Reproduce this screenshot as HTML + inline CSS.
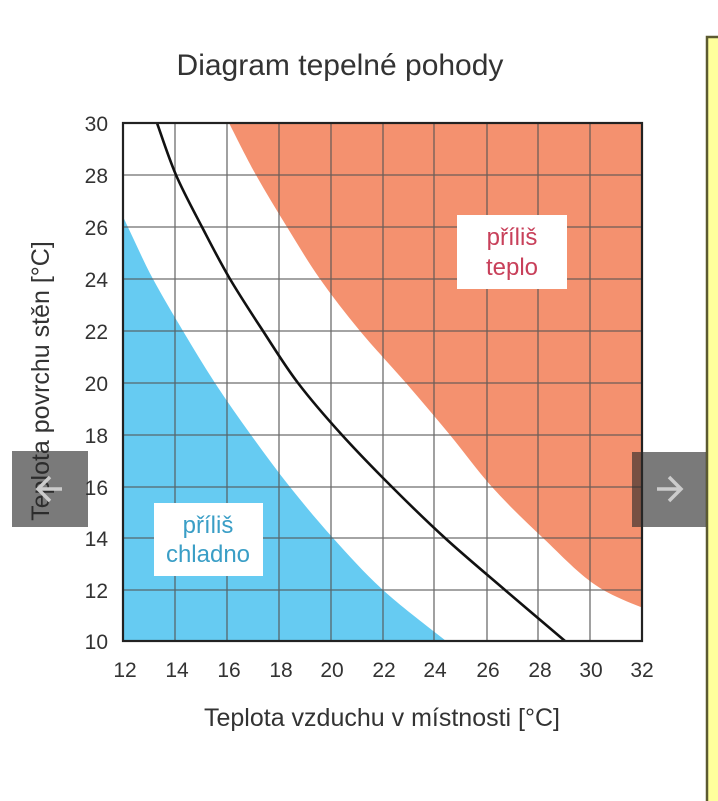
<!DOCTYPE html>
<html><head><meta charset="utf-8"><style>
html,body{margin:0;padding:0;background:#fff;}
body{width:718px;height:801px;overflow:hidden;position:relative;font-family:"Liberation Sans",Arial,sans-serif;}
</style></head><body>
<svg width="718" height="801" viewBox="0 0 718 801" xmlns="http://www.w3.org/2000/svg" style="position:absolute;left:0;top:0">
<defs><clipPath id="pc"><rect x="123" y="123" width="519" height="518"/></clipPath></defs>
<rect x="0" y="0" width="718" height="801" fill="#fff"/>
<rect x="707" y="37" width="20" height="780" fill="#ffff9c" stroke="#5c5a30" stroke-width="2.5"/>
<text x="340" y="75" font-size="30" fill="#333" text-anchor="middle">Diagram tepelné pohody</text>
<g clip-path="url(#pc)">
<path id="orange" fill="#f4916f"/>
<path id="blue" fill="#66cbf2"/>
</g>
<g stroke="#555" stroke-width="1.3" opacity="0.85">
<line x1="175" y1="123" x2="175" y2="641"/><line x1="227" y1="123" x2="227" y2="641"/>
<line x1="279" y1="123" x2="279" y2="641"/><line x1="331" y1="123" x2="331" y2="641"/>
<line x1="383" y1="123" x2="383" y2="641"/><line x1="434" y1="123" x2="434" y2="641"/>
<line x1="487" y1="123" x2="487" y2="641"/><line x1="538" y1="123" x2="538" y2="641"/>
<line x1="590" y1="123" x2="590" y2="641"/>
<line x1="123" y1="175" x2="642" y2="175"/><line x1="123" y1="227" x2="642" y2="227"/>
<line x1="123" y1="279" x2="642" y2="279"/><line x1="123" y1="331" x2="642" y2="331"/>
<line x1="123" y1="383" x2="642" y2="383"/><line x1="123" y1="435" x2="642" y2="435"/>
<line x1="123" y1="487" x2="642" y2="487"/><line x1="123" y1="538" x2="642" y2="538"/>
<line x1="123" y1="590" x2="642" y2="590"/>
</g>
<path id="black" fill="none" stroke="#111" stroke-width="2.6"/>
<rect x="123" y="123" width="519" height="518" fill="none" stroke="#222" stroke-width="2.2"/>
<rect x="457" y="215" width="110" height="74" fill="#fff"/>
<text x="512" y="245" font-size="24" fill="#c8405a" text-anchor="middle">příliš</text>
<text x="512" y="275" font-size="24" fill="#c8405a" text-anchor="middle">teplo</text>
<rect x="154" y="503" width="109" height="73" fill="#fff"/>
<text x="208" y="533" font-size="24" fill="#3a9ec6" text-anchor="middle">příliš</text>
<text x="208" y="562" font-size="24" fill="#3a9ec6" text-anchor="middle">chladno</text>
<g font-size="21" fill="#333" text-anchor="end">
<text x="108" y="131">30</text><text x="108" y="183">28</text><text x="108" y="235">26</text>
<text x="108" y="287">24</text><text x="108" y="339">22</text><text x="108" y="391">20</text>
<text x="108" y="443">18</text><text x="108" y="495">16</text><text x="108" y="546">14</text>
<text x="108" y="598">12</text><text x="108" y="649">10</text>
</g>
<g font-size="21" fill="#333" text-anchor="middle">
<text x="125" y="677">12</text><text x="177" y="677">14</text><text x="229" y="677">16</text>
<text x="281" y="677">18</text><text x="332" y="677">20</text><text x="384" y="677">22</text>
<text x="435" y="677">24</text><text x="488" y="677">26</text><text x="540" y="677">28</text>
<text x="591" y="677">30</text><text x="642" y="677">32</text>
</g>
<text x="382" y="726" font-size="25" fill="#333" text-anchor="middle">Teplota vzduchu v místnosti [°C]</text>
<text transform="translate(49,381) rotate(-90)" font-size="25" fill="#333" text-anchor="middle">Teplota povrchu stěn [°C]</text>
<rect x="12" y="451" width="76" height="76" fill="rgba(40,40,40,0.62)"/>
<path d="M62,489 H38 M50,477 L38,489 L50,501" fill="none" stroke="#ccc" stroke-width="3.5"/>
<rect x="632" y="452" width="74" height="75" fill="rgba(40,40,40,0.62)"/>
<path d="M657,489 H681 M669,477 L681,489 L669,501" fill="none" stroke="#ccc" stroke-width="3.5"/>
</svg>
<script>
function cr(p){var d="M"+p[0][0]+","+p[0][1];for(var i=0;i<p.length-1;i++){var a=p[i-1]||p[i],b=p[i],c=p[i+1],e=p[i+2]||c;
d+=" C"+(b[0]+(c[0]-a[0])/6).toFixed(1)+","+(b[1]+(c[1]-a[1])/6).toFixed(1)+" "+(c[0]-(e[0]-b[0])/6).toFixed(1)+","+(c[1]-(e[1]-b[1])/6).toFixed(1)+" "+c[0]+","+c[1];}return d;}
var bk=[[157,123],[176,175],[202,227],[230,279],[263,331],[298,383],[342,435],[392,487],[445,538],[505,590],[565,641]];
var bl=[[118,206],[134,240],[153,279],[183,331],[215,383],[251,435],[290,487],[333,538],[383,590],[446,641],[470,660]];
var or=[[220,105],[229,123],[256,175],[287,227],[320,279],[360,331],[406,383],[450,435],[492,487],[543,538],[600,588],[670,618]];
document.getElementById("black").setAttribute("d",cr(bk));
document.getElementById("blue").setAttribute("d",cr(bl)+" L100,700 L100,200 Z");
document.getElementById("orange").setAttribute("d",cr(or)+" L700,618 L700,100 Z");
</script>
</body></html>
